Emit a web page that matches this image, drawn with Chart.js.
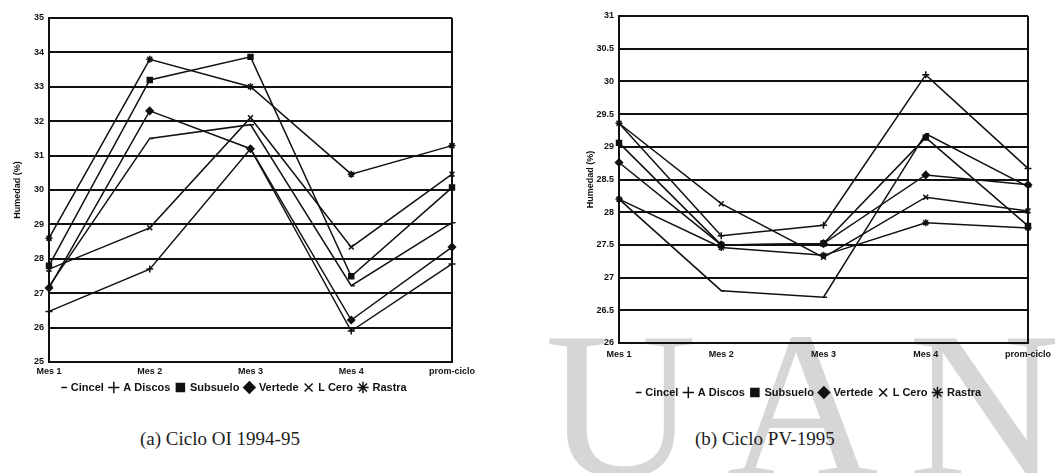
<!DOCTYPE html>
<html>
<head>
<meta charset="utf-8">
<script src="https://cdn.jsdelivr.net/npm/chart.js@4.4.1/dist/chart.umd.min.js"></script>
<style>
body { margin: 0; background: #fff; width: 1061px; height: 473px; overflow: hidden; position: relative; }
#wm { position: absolute; left: 545px; top: 300px; font: 210px "Liberation Serif", serif; color: #d6d6d6; letter-spacing: 30px; white-space: nowrap; line-height: 1; }
canvas { position: absolute; top: 0; }
.cap { position: absolute; top: 428px; font: 19px "Liberation Serif", serif; color: #222; }
</style>
</head>
<body>
<div id="wm">UANL</div>
<canvas id="chartOI" width="540" height="403" style="left:0"></canvas>
<canvas id="chartPV" width="521" height="412" style="left:540px"></canvas>
<div class="cap" style="left:140px">(a) Ciclo OI 1994-95</div>
<div class="cap" style="left:695px">(b) Ciclo PV-1995</div>
<script>
const categories = ['Mes 1', 'Mes 2', 'Mes 3', 'Mes 4', 'prom-ciclo'];
const seriesNames = ['Cincel', 'A Discos', 'Subsuelo', 'Vertede', 'L Cero', 'Rastra'];
const markers = ['dash', 'cross', 'rect', 'rectRot', 'crossRot', 'star'];

// (a) Ciclo OI 1994-95
const oiCincel   = [27.2, 31.5, 31.9, 27.22, 29.05];
const oiDiscos   = [26.47, 27.7, 31.2, 25.9, 27.85];
const oiSubsuelo = [27.8, 33.2, 33.87, 27.49, 30.07];
const oiVertede  = [27.15, 32.3, 31.2, 26.22, 28.34];
const oiCero     = [27.7, 28.9, 32.1, 28.34, 30.46];
const oiRastra   = [28.6, 33.8, 33.0, 30.46, 31.29];

// (b) Ciclo PV-1995
const pvCincel   = [28.2, 26.8, 26.7, 29.2, 28.39];
const pvDiscos   = [29.36, 27.64, 27.8, 30.1, 28.67];
const pvSubsuelo = [29.06, 27.5, 27.52, 29.14, 27.79];
const pvVertede  = [28.76, 27.5, 27.52, 28.57, 28.42];
const pvCero     = [29.36, 28.13, 27.31, 28.23, 28.02];
const pvRastra   = [28.2, 27.46, 27.34, 27.84, 27.76];

const ink = '#111';
const tickFont = { family: 'Liberation Sans', size: 9, weight: 'bold' };

// right edge of the plot box
const frame = {
    id: 'frame',
    afterDraw(chart) {
        const a = chart.chartArea, ctx = chart.ctx;
        ctx.save();
        ctx.strokeStyle = ink;
        ctx.lineWidth = 2;
        ctx.beginPath();
        ctx.moveTo(a.right, a.top);
        ctx.lineTo(a.right, a.bottom);
        ctx.stroke();
        ctx.restore();
    }
};

function makeDatasets(rows) {
    return rows.map((values, i) => ({
        label: seriesNames[i],
        data: values,
        borderColor: ink,
        backgroundColor: ink,
        borderWidth: 1.5,
        pointStyle: markers[i],
        pointRadius: 3.5,
        pointBorderWidth: 1.5,
        tension: 0
    }));
}

function makeConfig(rows, yMin, yMax, step, box) {
    return {
        type: 'line',
        data: { labels: categories, datasets: makeDatasets(rows) },
        options: {
            responsive: false,
            animation: false,
            layout: { padding: box.padding },
            plugins: {
                tooltip: { enabled: false },
                legend: {
                    position: 'bottom',
                    align: 'center',
                    labels: {
                        color: ink,
                        font: { family: 'Liberation Sans', size: 11, weight: 'bold' },
                        usePointStyle: true,
                        boxWidth: 8,
                        boxHeight: 8,
                        padding: 6
                    }
                }
            },
            scales: {
                x: {
                    grid: { display: false, drawTicks: false },
                    border: { color: ink, width: 2 },
                    ticks: { color: ink, font: tickFont, padding: box.xPad, maxRotation: 0, autoSkip: false },
                    afterFit: s => { s.height = box.xHeight; }
                },
                y: {
                    min: yMin,
                    max: yMax,
                    ticks: { stepSize: step, color: ink, font: tickFont, padding: 5, callback: v => String(v) },
                    grid: { color: ink, lineWidth: 2, drawTicks: false },
                    border: { color: ink, width: 2 },
                    title: { display: true, text: 'Humedad (%)', color: ink, font: tickFont, padding: 0 },
                    afterFit: s => { s.width = box.yWidth; }
                }
            }
        },
        plugins: [frame]
    };
}

const oiConfig = makeConfig(
    [oiCincel, oiDiscos, oiSubsuelo, oiVertede, oiCero, oiRastra], 25, 35, 1,
    { padding: { left: 12, right: 88, top: 18, bottom: 0 }, xHeight: 14, xPad: 4, yWidth: 37 }
);

const pvConfig = makeConfig(
    [pvCincel, pvDiscos, pvSubsuelo, pvVertede, pvCero, pvRastra], 26, 31, 0.5,
    { padding: { left: 45, right: 33, top: 16, bottom: 4 }, xHeight: 38, xPad: 6, yWidth: 34 }
);

const oiChart = new Chart(document.getElementById('chartOI'), oiConfig);
const pvChart = new Chart(document.getElementById('chartPV'), pvConfig);
</script>
</body>
</html>
